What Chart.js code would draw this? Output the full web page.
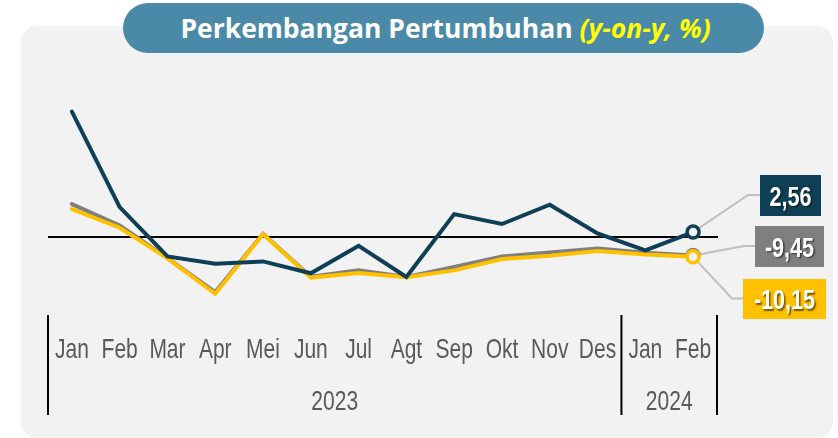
<!DOCTYPE html>
<html>
<head>
<meta charset="utf-8">
<script src="https://cdn.jsdelivr.net/npm/chart.js@4"></script>
<style>
  html, body { margin: 0; padding: 0; background: #ffffff; }
  #wrap { position: relative; width: 838px; height: 438px; overflow: hidden; }
  #panel { position: absolute; left: 21px; top: 26px; width: 812px; height: 412px; background: #f2f2f2; border-radius: 16px; }
  #title { position: absolute; left: 123px; top: 3px; width: 641px; height: 50px; background: #4a89a8; border-radius: 25px;
           color: #ffffff; font-family: "Open Sans", Lato, sans-serif; font-weight: bold; font-size: 26.5px;
           line-height: 50px; text-align: center; white-space: nowrap; padding-left: 4px; box-sizing: border-box; }
  #title span { color: #ffff00; font-style: italic; }
  canvas { position: absolute; left: 0; top: 0; }
</style>
</head>
<body>
<div id="wrap">
  <div id="panel"></div>
  <div id="title">Perkembangan Pertumbuhan <span>(y-on-y, %)</span></div>
  <canvas id="c" width="838" height="438"></canvas>
</div>
<script>
// ---- data ----
const months = ['Jan','Feb','Mar','Apr','Mei','Jun','Jul','Agt','Sep','Okt','Nov','Des','Jan','Feb'];
const yearLabels = ['2023','2024'];
const yearSpans = [12, 2];
const seriesNavy = [64.4, 15.4, -9.9, -13.7, -12.5, -18.6, -4.5, -20.5, 11.8, 6.7, 16.6, 1.9, -6.8, 2.56];
const seriesGray = [16.9, 6.0, -10.8, -28.2, 1.7, -20.3, -17.1, -20.5, -15.4, -9.9, -7.9, -5.9, -8.0, -9.45];
const seriesGold = [14.4, 4.8, -10.9, -29.1, 1.5, -20.8, -18.5, -20.6, -17.1, -11.3, -9.6, -7.1, -8.9, -10.15];
const endLabels = ['2,56', '-9,45', '-10,15'];

const NAVY = '#0f3f57', GRAY = '#7f7f7f', GOLD = '#ffc000';
const last = months.length - 1;
const LABEL_FONT = '"Liberation Sans", Arial, sans-serif';

function endRadius(ctx) { return ctx.dataIndex === last ? 6 : 0; }

function narrowText(c, txt, x, y, sx) {
  c.save(); c.translate(x, y); c.scale(sx, 1); c.fillText(txt, 0, 0); c.restore();
}

const deco = {
  id: 'deco',
  beforeDatasetsDraw(chart) {
    const c = chart.ctx, xs = chart.scales.x, ys = chart.scales.y, a = chart.chartArea;
    c.save();
    // zero line
    const y0 = ys.getPixelForValue(0);
    c.strokeStyle = '#000000'; c.lineWidth = 2;
    c.beginPath(); c.moveTo(a.left, y0); c.lineTo(a.right + 1, y0); c.stroke();
    // leader lines
    const px = xs.getPixelForValue(last);
    const leaders = [
      [ys.getPixelForValue(seriesNavy[last]), [[748, 195], [760, 195]]],
      [ys.getPixelForValue(seriesGray[last]), [[744, 246], [755, 246]]],
      [ys.getPixelForValue(seriesGold[last]), [[732, 298.5], [743, 298.5]]]
    ];
    c.strokeStyle = '#bfbfbf'; c.lineWidth = 2;
    leaders.forEach(([py, pts]) => {
      c.beginPath(); c.moveTo(px, py);
      pts.forEach(p => c.lineTo(p[0], p[1]));
      c.stroke();
    });
    c.restore();
  },
  afterDatasetsDraw(chart) {
    const c = chart.ctx, xs = chart.scales.x;
    c.save();
    const half = (xs.getPixelForValue(1) - xs.getPixelForValue(0)) / 2;
    // month labels
    c.fillStyle = '#595959';
    c.font = '28px ' + LABEL_FONT;
    c.textAlign = 'center'; c.textBaseline = 'alphabetic';
    months.forEach((m, i) => narrowText(c, m, xs.getPixelForValue(i), 358, 0.75));
    // year groups & separators
    let start = 0;
    const bounds = [xs.getPixelForValue(0) - half];
    yearLabels.forEach((yl, g) => {
      const end = start + yearSpans[g] - 1;
      const xl = xs.getPixelForValue(start) - half, xr = xs.getPixelForValue(end) + half;
      narrowText(c, yl, (xl + xr) / 2, 410, 0.75);
      bounds.push(xr);
      start = end + 1;
    });
    c.strokeStyle = '#000000'; c.lineWidth = 2;
    bounds.forEach(bx => { c.beginPath(); c.moveTo(bx, 315); c.lineTo(bx, 415); c.stroke(); });
    // callout boxes
    const boxes = [
      [760, 175, 61, 41, NAVY, endLabels[0]],
      [755, 226, 69, 41, GRAY, endLabels[1]],
      [743, 279, 83, 40, GOLD, endLabels[2]]
    ];
    boxes.forEach(([bx, by, bw, bh, col, txt]) => {
      c.fillStyle = col; c.fillRect(bx, by, bw, bh);
      c.save();
      c.shadowColor = 'rgba(0,0,0,0.55)'; c.shadowOffsetX = 1.5; c.shadowOffsetY = 1.5; c.shadowBlur = 1.5;
      c.fillStyle = '#ffffff';
      c.font = 'bold 27px ' + LABEL_FONT;
      c.textAlign = 'center'; c.textBaseline = 'alphabetic';
      narrowText(c, txt, bx + bw / 2, by + bh / 2 + 10, 0.8);
      c.restore();
    });
    c.restore();
  }
};

new Chart(document.getElementById('c'), {
  type: 'line',
  data: {
    labels: months,
    datasets: [
      { label: 'Seri 1', data: seriesNavy, borderColor: NAVY, borderWidth: 4 },
      { label: 'Seri 2', data: seriesGold, borderColor: GOLD, borderWidth: 4 },
      { label: 'Seri 3', data: seriesGray, borderColor: GRAY, borderWidth: 4 }
    ].map(d => Object.assign(d, {
      tension: 0, fill: false,
      pointRadius: endRadius, pointHoverRadius: endRadius,
      pointBorderColor: d.borderColor, pointBackgroundColor: '#f2f2f2', pointBorderWidth: 3.5,
      borderJoinStyle: 'miter', borderCapStyle: 'round'
    }))
  },
  options: {
    responsive: false,
    animation: false,
    layout: { padding: { left: 48, right: 121, top: 90, bottom: 123 } },
    plugins: { legend: { display: false }, tooltip: { enabled: false } },
    scales: {
      x: { type: 'category', display: false, offset: true },
      y: { display: false, min: -40, max: 75.5 }
    }
  },
  plugins: [deco]
});
</script>
</body>
</html>
